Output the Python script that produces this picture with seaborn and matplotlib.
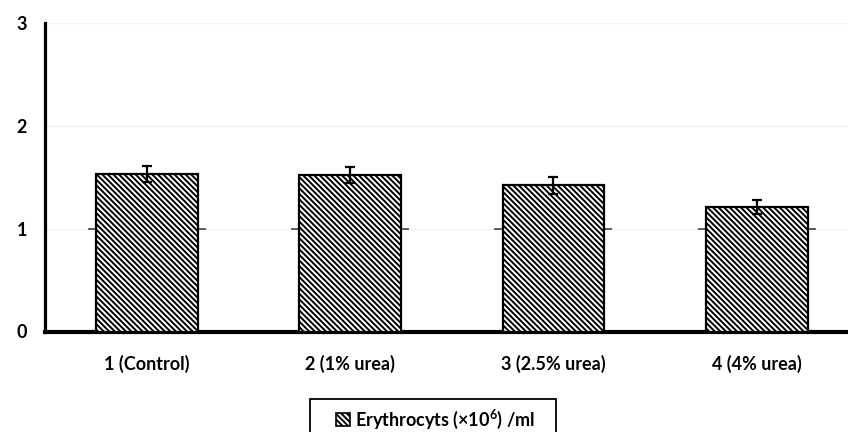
import matplotlib
matplotlib.use("Agg")
import matplotlib.pyplot as plt
from matplotlib.patches import Patch, Rectangle
import seaborn as sns
import pandas as pd

# Erythrocyte counts per treatment group (mean and standard error)
groups = ["1 (Control)", "2 (1% urea)", "3 (2.5% urea)", "4 (4% urea)"]
erythrocytes = [1.53, 1.52, 1.42, 1.21]
erythrocytes_se = [0.08, 0.075, 0.08, 0.07]
y_ticks = [0, 1, 2, 3]
series_label = r"Erythrocyts (×$\mathregular{10^{6}}$) /ml"

sns.set_theme(style="white")
plt.rcParams["font.family"] = ["Lato", "DejaVu Sans"]
plt.rcParams["hatch.linewidth"] = 1.4
plt.rcParams["hatch.color"] = "black"
plt.rcParams["mathtext.default"] = "regular"

fig = plt.figure(figsize=(8.48, 4.32), dpi=100)
ax = fig.add_axes([45 / 848, 1 - 331.5 / 432, (858.5 - 45) / 848, (331.5 - 23) / 432])

df = pd.DataFrame({"group": groups, "value": erythrocytes})
sns.barplot(data=df, x="group", y="value", ax=ax, color="white",
            edgecolor="black", linewidth=1.6, width=0.5, errorbar=None,
            zorder=3)
for p in ax.patches:
    p.set_facecolor("white")
    p.set_hatch("\\" * 6)

centers = [p.get_x() + p.get_width() / 2 for p in ax.patches]
ax.errorbar(centers, erythrocytes, yerr=erythrocytes_se, fmt="none",
            ecolor="black", elinewidth=1.6, capsize=3.6, capthick=1.6, zorder=4)

# faint horizontal guides
for t in y_ticks[1:]:
    ax.axhline(t, color="#f1f1f1", lw=1, zorder=0)
# short marks at y=1 beside each bar
for p in ax.patches:
    x0, x1 = p.get_x(), p.get_x() + p.get_width()
    ax.hlines(1, x0 - 0.04, x0, color="#333333", lw=1.1, zorder=2)
    ax.hlines(1, x1, x1 + 0.04, color="#333333", lw=1.1, zorder=2)

ax.set_xlim(-0.5, 3.5)
ax.set_ylim(0, 3)
ax.set_yticks(y_ticks)
ax.set_xlabel("")
ax.set_ylabel("")
for s in ["top", "right"]:
    ax.spines[s].set_visible(False)
ax.spines["left"].set_linewidth(2.3)
ax.spines["left"].set_color("black")
ax.spines["bottom"].set_linewidth(3)
ax.spines["bottom"].set_color("black")
ax.tick_params(axis="y", length=0, pad=13, labelsize=13)
ax.tick_params(axis="x", length=0, pad=17, labelsize=13)
for lab in ax.get_xticklabels() + ax.get_yticklabels():
    lab.set_fontweight("bold")
    lab.set_color("black")

handle = Patch(facecolor="white", edgecolor="black", hatch="\\" * 6, lw=1.2)
leg = fig.legend([handle], [series_label], loc="upper center",
                 bbox_to_anchor=(436 / 848, 1 - 408 / 432), frameon=False,
                 prop={"family": "Lato", "weight": "bold", "size": 13},
                 handlelength=0.75, handleheight=0.75, handletextpad=0.3,
                 borderpad=0.0, borderaxespad=0)
for t in leg.get_texts():
    t.set_color("black")

# box around the legend, wider than the entries
fig.canvas.draw()
bb = leg.get_window_extent()
W, H = fig.bbox.width, fig.bbox.height
pad_l, pad_r, pad_t = 26, 20, 9
fig.add_artist(Rectangle(((bb.x0 - pad_l) / W, -0.05),
                         (bb.width + pad_l + pad_r) / W,
                         (bb.y1 + pad_t) / H + 0.05,
                         transform=fig.transFigure, fill=False,
                         edgecolor="black", lw=1.3))

fig.savefig("out.png", dpi=100)
